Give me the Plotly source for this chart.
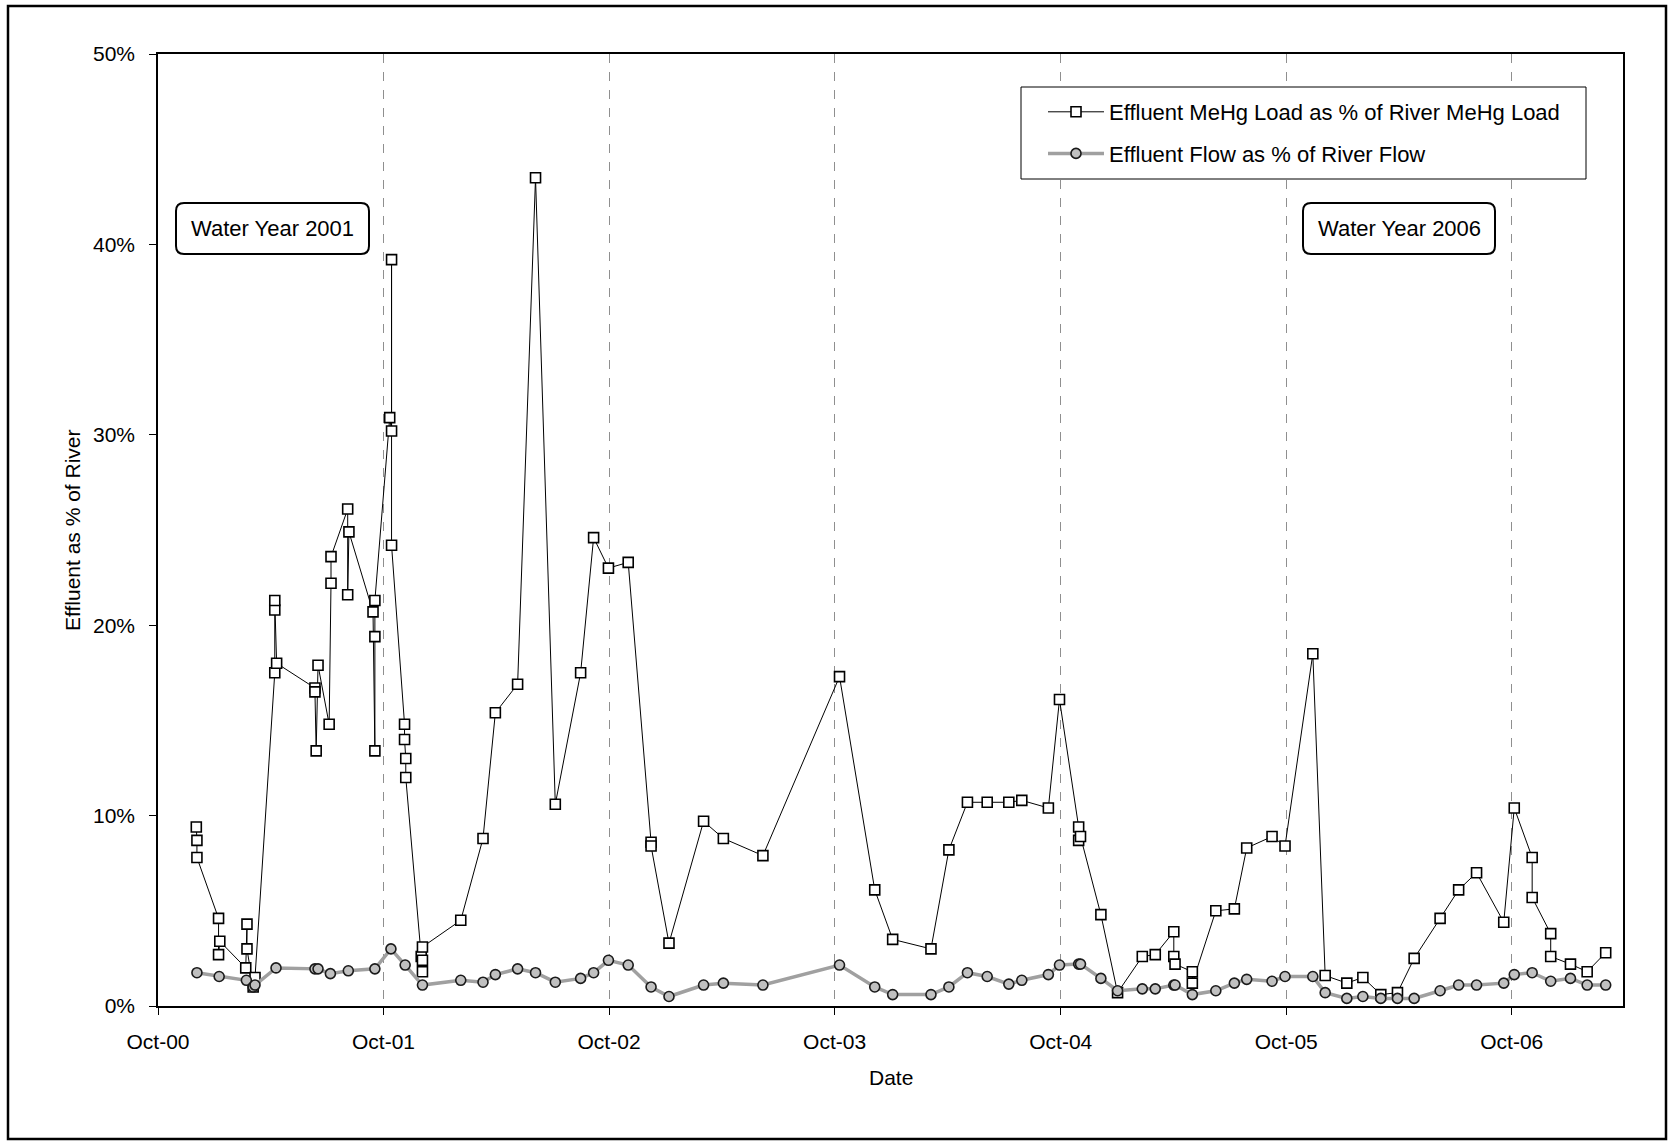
import plotly.graph_objects as go

# ---------------- data ----------------
mehg_dates = [
    "2000-12-02", "2000-12-03", "2000-12-03", "2001-01-07", "2001-01-07", "2001-01-09",
    "2001-02-20", "2001-02-22", "2001-02-22", "2001-03-04", "2001-03-07",
    "2001-04-08", "2001-04-08", "2001-04-08", "2001-04-11",
    "2001-06-12", "2001-06-12", "2001-06-14", "2001-06-17",
    "2001-07-05", "2001-07-08", "2001-07-08",
    "2001-08-04", "2001-08-04", "2001-08-06",
    "2001-09-14", "2001-09-17", "2001-09-17", "2001-09-17",
    "2001-10-11", "2001-10-14", "2001-10-14", "2001-10-14",
    "2001-11-04", "2001-11-04", "2001-11-06", "2001-11-06",
    "2001-12-01", "2001-12-03", "2001-12-03", "2001-12-03",
    "2002-02-03", "2002-03-11", "2002-03-31", "2002-05-06", "2002-06-04",
    "2002-07-06", "2002-08-16", "2002-09-06", "2002-09-30", "2002-11-01",
    "2002-12-08", "2002-12-08", "2003-01-06", "2003-03-03", "2003-04-04",
    "2003-06-07", "2003-10-09", "2003-12-05", "2004-01-03", "2004-03-05",
    "2004-04-03", "2004-05-03", "2004-06-04", "2004-07-09", "2004-07-30",
    "2004-09-11", "2004-09-29", "2004-10-30", "2004-10-30", "2004-11-02",
    "2004-12-05", "2005-01-01", "2005-02-10", "2005-03-03",
    "2005-04-02", "2005-04-02", "2005-04-04", "2005-05-02", "2005-05-02",
    "2005-06-09", "2005-07-09", "2005-07-29", "2005-09-08", "2005-09-29",
    "2005-11-13", "2005-12-03", "2006-01-07", "2006-02-02", "2006-03-03",
    "2006-03-30", "2006-04-26", "2006-06-07", "2006-07-07", "2006-08-05",
    "2006-09-18", "2006-10-05", "2006-11-03", "2006-11-03",
    "2006-12-03", "2006-12-03", "2007-01-04", "2007-01-31", "2007-03-02",
]
mehg_pct = [
    9.4, 8.7, 7.8, 4.6, 2.7, 3.4,
    2.0, 4.3, 3.0, 1.0, 1.5,
    17.5, 20.8, 21.3, 18.0,
    16.7, 16.5, 13.4, 17.9,
    14.8, 22.2, 23.6,
    26.1, 21.6, 24.9,
    20.7, 13.4, 19.4, 21.3,
    30.9, 30.2, 39.2, 24.2,
    14.8, 14.0, 13.0, 12.0,
    2.6, 1.8, 2.4, 3.1,
    4.5, 8.8, 15.4, 16.9, 43.5,
    10.6, 17.5, 24.6, 23.0, 23.3,
    8.6, 8.4, 3.3, 9.7, 8.8,
    7.9, 17.3, 6.1, 3.5, 3.0,
    8.2, 10.7, 10.7, 10.7, 10.8,
    10.4, 16.1, 9.4, 8.7, 8.9,
    4.8, 0.7, 2.6, 2.7,
    3.9, 2.6, 2.2, 1.8, 1.2,
    5.0, 5.1, 8.3, 8.9, 8.4,
    18.5, 1.6, 1.2, 1.5, 0.6,
    0.7, 2.5, 4.6, 6.1, 7.0,
    4.4, 10.4, 7.8, 5.7,
    3.8, 2.6, 2.2, 1.8, 2.8,
]

flow_dates = [
    "2000-12-03", "2001-01-08", "2001-02-21", "2001-03-04", "2001-03-07",
    "2001-04-10", "2001-06-12", "2001-06-17", "2001-07-07", "2001-08-05",
    "2001-09-17", "2001-10-13", "2001-11-05", "2001-12-03",
    "2002-02-03", "2002-03-11", "2002-03-31", "2002-05-06", "2002-06-04",
    "2002-07-06", "2002-08-16", "2002-09-06", "2002-09-30", "2002-11-01",
    "2002-12-08", "2003-01-06", "2003-03-03", "2003-04-04", "2003-06-07",
    "2003-10-09", "2003-12-05", "2004-01-03", "2004-03-05", "2004-04-03",
    "2004-05-03", "2004-06-04", "2004-07-09", "2004-07-30", "2004-09-11",
    "2004-09-29", "2004-10-30", "2004-11-02", "2004-12-05", "2005-01-01",
    "2005-02-10", "2005-03-03", "2005-04-02", "2005-04-04", "2005-05-02",
    "2005-06-09", "2005-07-09", "2005-07-29", "2005-09-08", "2005-09-29",
    "2005-11-13", "2005-12-03", "2006-01-07", "2006-02-02", "2006-03-03",
    "2006-03-30", "2006-04-26", "2006-06-07", "2006-07-07", "2006-08-05",
    "2006-09-18", "2006-10-05", "2006-11-03", "2006-12-03", "2007-01-04",
    "2007-01-31", "2007-03-02",
]
flow_pct = [
    1.75, 1.55, 1.35, 1.0, 1.1,
    2.0, 1.95, 1.95, 1.7, 1.85,
    1.95, 3.0, 2.15, 1.1,
    1.35, 1.25, 1.65, 1.95, 1.75,
    1.25, 1.45, 1.75, 2.4, 2.15,
    1.0, 0.5, 1.1, 1.2, 1.1,
    2.15, 1.0, 0.6, 0.6, 1.0,
    1.75, 1.55, 1.15, 1.35, 1.65,
    2.15, 2.2, 2.2, 1.45, 0.8,
    0.9, 0.9, 1.1, 1.1, 0.6,
    0.8, 1.2, 1.4, 1.3, 1.55,
    1.55, 0.7, 0.4, 0.5, 0.4,
    0.4, 0.4, 0.8, 1.1, 1.1,
    1.2, 1.65, 1.75, 1.3, 1.45,
    1.1, 1.1,
]

tick_dates = ["2000-10-01", "2001-10-01", "2002-10-01", "2003-10-01",
              "2004-10-01", "2005-10-01", "2006-10-01"]
tick_labels = ["Oct-00", "Oct-01", "Oct-02", "Oct-03", "Oct-04", "Oct-05", "Oct-06"]
y_ticks = [0, 10, 20, 30, 40, 50]

series_names = ["Effluent MeHg Load as % of River MeHg Load",
                "Effluent Flow as % of River Flow"]
box_texts = ["Water Year 2001", "Water Year 2006"]

# ---------------- layout geometry ----------------
W, H = 1669, 1142
L, R, T, B = 158, 1623, 54, 1006
FONT = "Liberation Sans, Arial, sans-serif"


def px(x):
    return (x - L) / (R - L)


def py(y):
    return (B - y) / (B - T)


def rounded_path(x0, y0, x1, y1, r=8):
    X0, X1 = px(x0), px(x1)
    Y0, Y1 = py(y1), py(y0)  # Y0 bottom, Y1 top in paper
    rx, ry = r / (R - L), r / (B - T)
    return (f"M {X0+rx},{Y1} L {X1-rx},{Y1} Q {X1},{Y1} {X1},{Y1-ry} "
            f"L {X1},{Y0+ry} Q {X1},{Y0} {X1-rx},{Y0} L {X0+rx},{Y0} "
            f"Q {X0},{Y0} {X0},{Y0+ry} L {X0},{Y1-ry} Q {X0},{Y1} {X0+rx},{Y1} Z")


fig = go.Figure()
fig.add_trace(go.Scatter(
    x=mehg_dates, y=mehg_pct, name=series_names[0], mode="lines+markers",
    line=dict(color="black", width=1),
    marker=dict(symbol="square", size=10, color="white",
                line=dict(color="black", width=1.6)),
    legendgroup="a",
))
fig.add_trace(go.Scatter(
    x=flow_dates, y=flow_pct, name=series_names[1], mode="lines+markers",
    line=dict(color="#a0a0a0", width=3.5),
    marker=dict(symbol="circle", size=10, color="#c0c0c0",
                line=dict(color="#1a1a1a", width=1.6)),
    legendgroup="b",
))

shapes = [
    # outer chart border
    dict(type="rect", xref="paper", yref="paper",
         x0=px(8), x1=px(1666), y0=py(1139), y1=py(6),
         line=dict(color="black", width=2.5), layer="below"),
    # legend frame
    dict(type="rect", xref="paper", yref="paper",
         x0=px(1021), x1=px(1586), y0=py(179), y1=py(87),
         line=dict(color="black", width=1), fillcolor="white", layer="above"),
    dict(type="path", xref="paper", yref="paper",
         path=rounded_path(176, 203, 369, 254), line=dict(color="black", width=2),
         fillcolor="white"),
    dict(type="path", xref="paper", yref="paper",
         path=rounded_path(1303, 203, 1495, 254), line=dict(color="black", width=2),
         fillcolor="white"),
]

annotations = [
    dict(text=box_texts[0], x=px((176 + 369) / 2), y=py(228.5), xref="paper", yref="paper",
         showarrow=False, font=dict(size=22, color="black", family=FONT),
         xanchor="center", yanchor="middle"),
    dict(text=box_texts[1], x=px((1303 + 1495) / 2), y=py(228.5), xref="paper", yref="paper",
         showarrow=False, font=dict(size=22, color="black", family=FONT),
         xanchor="center", yanchor="middle"),
    dict(text="Date", x=0.5, y=py(1077), xref="paper", yref="paper", showarrow=False,
         font=dict(size=21, color="black", family=FONT), xanchor="center", yanchor="middle"),
    dict(text="Effluent as % of River", x=px(72), y=0.5, xref="paper", yref="paper",
         showarrow=False, textangle=-90,
         font=dict(size=21, color="black", family=FONT), xanchor="center", yanchor="middle"),
]

fig.update_layout(
    width=W, height=H,
    margin=dict(l=L, r=W - R, t=T, b=H - B, pad=0),
    paper_bgcolor="white", plot_bgcolor="white",
    font=dict(family=FONT, size=21, color="black"),
    shapes=shapes, annotations=annotations,
    legend=dict(x=px(1043), y=py(91), xanchor="left", yanchor="top",
                borderwidth=0, bgcolor="rgba(0,0,0,0)",
                font=dict(size=22, family=FONT, color="black"),
                tracegroupgap=10, traceorder="grouped", itemwidth=56),
    showlegend=True,
)
fig.update_xaxes(
    type="date", range=["2000-10-01", "2007-03-30"],
    tickmode="array", tickvals=tick_dates, ticktext=tick_labels,
    ticks="outside", ticklen=7, tickcolor="black", tickwidth=1.2,
    showline=True, linecolor="black", linewidth=1.5, mirror=True,
    showgrid=True, gridcolor="#8f8f8f", gridwidth=1, griddash="dash",
    zeroline=False, tickfont=dict(size=21, family=FONT, color="black"),
    ticklabelstandoff=9,
)
fig.update_yaxes(
    range=[0, 50], tickmode="array", tickvals=y_ticks,
    ticktext=[f"{v}%" for v in y_ticks],
    ticks="outside", ticklen=7, tickcolor="black", tickwidth=1.2,
    showline=True, linecolor="black", linewidth=1.5, mirror=True,
    showgrid=False, zeroline=False,
    tickfont=dict(size=21, family=FONT, color="black"),
    ticklabelstandoff=10,
)

fig.write_html("out.html", config={"displayModeBar": False})
with open("out.html", "r", encoding="utf-8") as f:
    html = f.read()
html = html.replace("<head>", "<head><style>html,body{margin:0;padding:0;overflow:hidden}</style>", 1)
with open("out.html", "w", encoding="utf-8") as f:
    f.write(html)
